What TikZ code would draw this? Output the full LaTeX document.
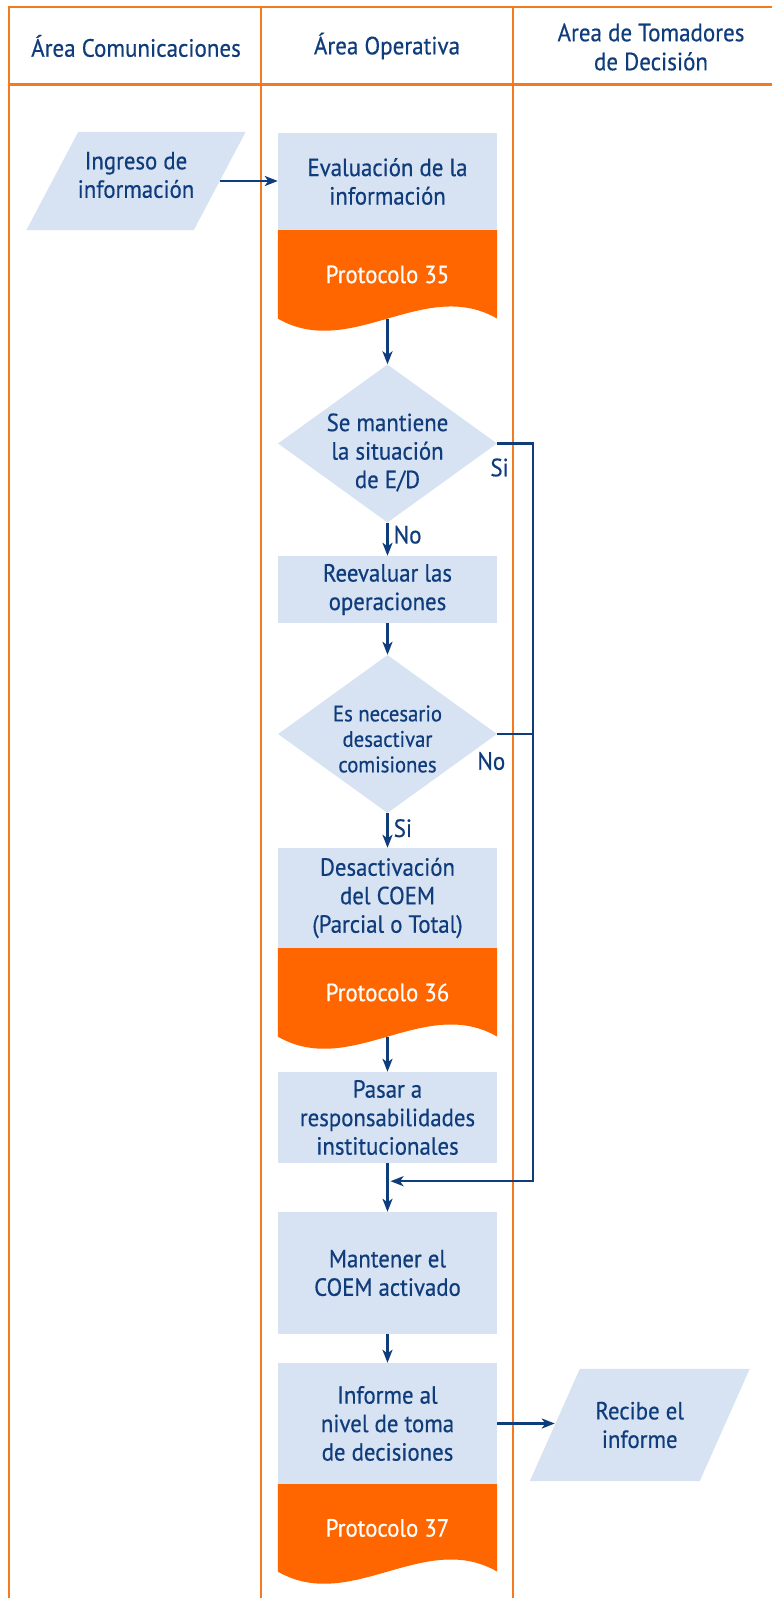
\documentclass[tikz,border=0pt]{standalone}
\usepackage{fontspec}
\setmainfont{PT Sans}[FakeStretch=0.92,FakeBold=0.5]
\usetikzlibrary{arrows.meta,shapes.geometric,backgrounds,calc}
\definecolor{lane}{HTML}{F47A20}
\definecolor{boxfill}{HTML}{D7E2F3}
\definecolor{ink}{HTML}{0F3C7B}
\definecolor{proto}{HTML}{FF6600}

\begin{document}
\begin{tikzpicture}[x=1pt,y=-1pt,
  every node/.style={font=\fontsize{24.8}{28.5}\selectfont, text=ink, align=center, inner sep=0pt},
  lanehdr/.style={font=\fontsize{25}{29}\selectfont},
  laneline/.style={draw=lane, line width=2.2pt},
  procbox/.style={rectangle, fill=boxfill, minimum width=219pt},
  protobox/.style={rectangle, minimum width=219pt, minimum height=88pt, text=white},
  decision/.style={diamond, fill=boxfill, minimum width=219pt, minimum height=158pt},
  iobox/.style={rectangle},
  flow/.style={draw=ink, line width=2.4pt, -{Stealth[length=13pt,width=10pt,inset=3.5pt]}},
  link/.style={draw=ink, line width=2.4pt},
  lbl/.style={font=\fontsize{25}{28}\selectfont}
]
\useasboundingbox (0,0) rectangle (772,1598);

% swimlane grid
\draw[laneline] (9,1598) -- (9,7) -- (772,7);
\draw[laneline] (9,84.5) -- (772,84.5);
\draw[laneline] (261,7) -- (261,1598);
\draw[laneline] (513,7) -- (513,1598);

% lane headers
\node[lanehdr] (hdrA) at (136,46) {Área Comunicaciones};
\node[lanehdr] (hdrB) at (387,46) {Área Operativa};
\node[lanehdr] (hdrC) at (651,47) {Area de Tomadores\\de Decisión};

% input
\node[iobox, minimum width=167pt, minimum height=98pt] (ingreso) at (136,181) {};
\node (ingresoT) at ([yshift=6pt]ingreso.center) {Ingreso de\\información};

% operative lane
\node[procbox, minimum height=97pt] (eval) at (387.5,181.5) {Evaluación de la\\información};
\node[protobox, anchor=north] (p35) at (eval.south) {Protocolo 35};

\node[decision] (d1) at (387.5,443.5) {};
\node (d1t) at ([yshift=-9pt]d1.center) {Se mantiene\\la situación\\de E/D};

\node[procbox, minimum height=67pt] (reev) at (387.5,589.5) {Reevaluar las\\operaciones};

\node[decision] (d2) at (387.5,734) {};
\node[font=\fontsize{22.5}{25.5}\selectfont] (d2t) at ([yshift=-5pt]d2.center) {Es necesario\\desactivar\\comisiones};

\node[procbox, minimum height=100pt] (desact) at (387.5,898) {Desactivación\\del COEM\\(Parcial o Total)};
\node[protobox, anchor=north] (p36) at (desact.south) {Protocolo 36};

\node[procbox, minimum height=91pt] (pasar) at (387.5,1117.5) {Pasar a\\responsabilidades\\institucionales};
\node[procbox, minimum height=122pt] (mant) at (387.5,1273) {Mantener el\\COEM activado};
\node[procbox, minimum height=121pt] (inf) at (387.5,1423.5) {Informe al\\nivel de toma\\de decisiones};
\node[protobox, anchor=north, minimum height=87pt] (p37) at (inf.south) {Protocolo 37};

% decision lane
\node[iobox, minimum width=169.5pt, minimum height=112pt] (recibe) at (639.75,1425) {Recibe el\\informe};

% parallelogram and document shapes
\begin{pgfonlayer}{background}
  \fill[boxfill] ([xshift=-26pt]ingreso.south west) -- ([xshift=-26pt]ingreso.south east)
    -- ([xshift=26pt]ingreso.north east) -- ([xshift=26pt]ingreso.north west) -- cycle;
  \fill[boxfill] ([xshift=-25pt]recibe.south west) -- ([xshift=-25pt]recibe.south east)
    -- ([xshift=25pt]recibe.north east) -- ([xshift=25pt]recibe.north west) -- cycle;
  \foreach \p in {p35,p36,p37}{
    \fill[proto] (\p.north west) -- (\p.south west)
      .. controls +(73,42) and +(-73,-42) .. (\p.south east)
      -- (\p.north east) -- cycle;
  }
\end{pgfonlayer}

% connectors
\coordinate (bus) at (533,0);
\coordinate (merge) at ($(pasar.south)!0.37!(mant.north)$);

\draw[flow] (ingreso.east) -- (ingreso.east -| eval.west);
\draw[flow] (p35.south) -- (d1.north);
\draw[flow] (d1.south) -- (reev.north);
\draw[flow] (reev.south) -- (d2.north);
\draw[flow] (d2.south) -- (desact.north);
\draw[flow] (p36.south) -- (pasar.north);
\draw[flow] (pasar.south) -- (mant.north);
\draw[flow] (mant.south) -- (inf.north);
\draw[flow] (inf.east) -- (inf.east -| recibe.west);
\draw[flow, shorten >=3pt] (d1.east) -- (d1.east -| bus) -- (bus |- merge) -- (merge);
\draw[link] (d2.east) -- (d2.east -| bus);

% branch labels
\node[lbl, anchor=west] (lblSi1) at ([xshift=-7pt,yshift=-24pt]d1.east) {Si};
\node[lbl, anchor=west] (lblNo1) at ([xshift=6pt,yshift=-12pt]d1.south) {No};
\node[lbl, anchor=west] (lblNo2) at ([xshift=-20pt,yshift=-27pt]d2.east) {No};
\node[lbl, anchor=west] (lblSi2) at ([xshift=6pt,yshift=-15pt]d2.south) {Si};
\end{tikzpicture}
\end{document}
